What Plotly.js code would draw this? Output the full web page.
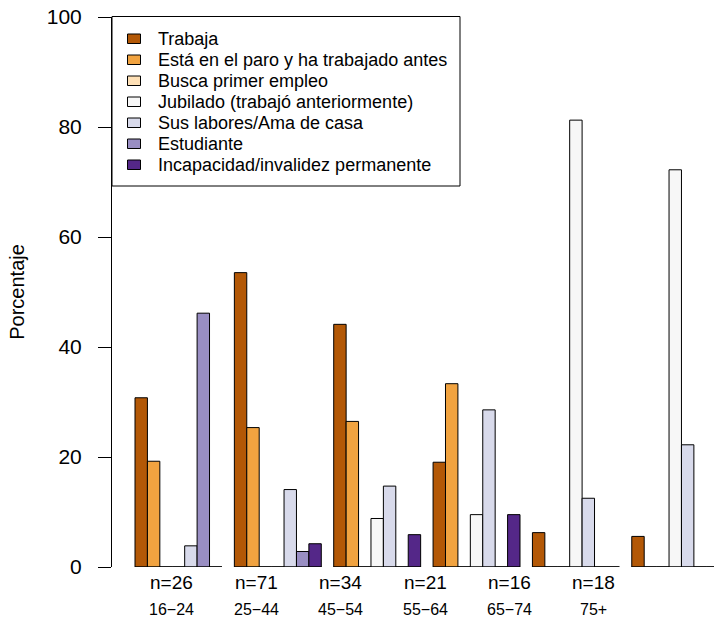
<!DOCTYPE html>
<html>
<head>
<meta charset="utf-8">
<script src="https://cdn.plot.ly/plotly-3.0.1.min.js"></script>
<style>html,body{margin:0;padding:0;background:#fff;}#chart{width:714px;height:620px;}</style>
</head>
<body>
<div id="chart"></div>
<script>
// Data (percentages within each age group)
var ageGroups = ["16\u221224", "25\u221244", "45\u221254", "55\u221264", "65\u221274", "75+"];
var nLabels = ["n=26", "n=71", "n=34", "n=21", "n=16", "n=18"];
var seriesNames = [
  "Trabaja",
  "Está en el paro y ha trabajado antes",
  "Busca primer empleo",
  "Jubilado (trabajó anteriormente)",
  "Sus labores/Ama de casa",
  "Estudiante",
  "Incapacidad/invalidez permanente"
];
var trabaja     = [30.77, 53.52, 44.12, 19.05, 6.25, 5.56];
var paro        = [19.23, 25.35, 26.47, 33.33, 0, 0];
var buscaPrimer = [0, 0, 0, 0, 0, 0];
var jubilado    = [0, 0, 8.82, 9.52, 81.25, 72.22];
var susLabores  = [3.85, 14.08, 14.71, 28.57, 12.5, 22.22];
var estudiante  = [46.15, 2.82, 0, 0, 0, 0];
var incapacidad = [0, 4.23, 5.88, 9.52, 0, 0];
var yTicks = [0, 20, 40, 60, 80, 100];

var seriesValues = [trabaja, paro, buscaPrimer, jubilado, susLabores, estudiante, incapacidad];
var colors = ["#b35806", "#f1a340", "#fee0b6", "#f7f7f7", "#d8daeb", "#998ec3", "#542788"];

var xIdx = ageGroups.map(function (_, i) { return i; });
var FONT = "Liberation Sans, Arial, Helvetica, sans-serif";

var traces = seriesValues.map(function (vals, k) {
  return {
    type: "bar",
    name: seriesNames[k],
    x: xIdx,
    y: vals,
    marker: { color: colors[k], line: { color: "#000000", width: 1 } },
    hoverinfo: "y+name",
    showlegend: false
  };
});

var bargap = 0.125;
var half = (1 - bargap) / 2;

// plot-area geometry (pixels) for the legend box
var L = 112, R = 714, T = 17, B = 567;
function px(xpix) { return (xpix - L) / (R - L); }
function py(ypix) { return (B - ypix) / (B - T); }

// baseline under each group (zero-height bars drawn as lines in the original)
var shapes = xIdx.map(function (i) {
  return {
    type: "line", xref: "x", yref: "y",
    x0: i - half, x1: i + half, y0: 0, y1: 0,
    line: { color: "#000000", width: 1 }, layer: "above"
  };
});

var annotations = [];

// legend (boxed, top-left, R style)
shapes.push({
  type: "rect", xref: "paper", yref: "paper",
  x0: px(112), x1: px(460), y0: py(186), y1: py(16.5),
  line: { color: "#000", width: 1 }, fillcolor: "#ffffff", layer: "above"
});
seriesNames.forEach(function (nm, k) {
  var cy = 39 + 21 * k;
  shapes.push({
    type: "rect", xref: "paper", yref: "paper",
    x0: px(127.5), x1: px(140.5), y0: py(cy + 4.5), y1: py(cy - 5),
    line: { color: "#000", width: 1 }, fillcolor: colors[k], layer: "above"
  });
  annotations.push({
    xref: "paper", yref: "paper", x: px(156), y: py(cy),
    xanchor: "left", yanchor: "middle", text: nm, showarrow: false,
    font: { family: FONT, size: 18, color: "#000" }
  });
});

// label positions under the groups (as in the original, not at group centres)
var labStart = -0.066, labStep = 0.8496;
xIdx.forEach(function (i) {
  var xp = labStart + labStep * i;
  annotations.push({
    xref: "x", yref: "paper", x: xp, y: 0, yanchor: "middle", xanchor: "center",
    yshift: -15, text: nLabels[i], showarrow: false,
    font: { family: FONT, size: 19, color: "#000" }
  });
  annotations.push({
    xref: "x", yref: "paper", x: xp, y: 0, yanchor: "middle", xanchor: "center",
    yshift: -42, text: ageGroups[i], showarrow: false,
    font: { family: FONT, size: 16, color: "#000" }
  });
});

var layout = {
  width: 714, height: 620,
  margin: { l: 112, r: 0, t: 17, b: 53, pad: 0 },
  paper_bgcolor: "#ffffff", plot_bgcolor: "#ffffff",
  font: { family: FONT, color: "#000000" },
  barmode: "group", bargap: bargap, bargroupgap: 0,
  showlegend: false,
  xaxis: {
    type: "linear", range: [-0.669, 5.39],
    showgrid: false, zeroline: false, showline: false,
    showticklabels: false, ticks: "", fixedrange: true
  },
  yaxis: {
    range: [0, 100], tickvals: yTicks, ticktext: yTicks.map(String),
    showgrid: false, zeroline: false, showline: true, linecolor: "#000", linewidth: 1,
    ticks: "outside", ticklen: 13, tickwidth: 1, tickcolor: "#000",
    ticklabelstandoff: 12,
    tickfont: { family: FONT, size: 21, color: "#000" },
    title: { text: "Porcentaje", font: { family: FONT, size: 20, color: "#000" }, standoff: 16 },
    fixedrange: true
  },
  shapes: shapes,
  annotations: annotations
};

Plotly.newPlot("chart", traces, layout, { displayModeBar: false, staticPlot: true });
</script>
</body>
</html>
